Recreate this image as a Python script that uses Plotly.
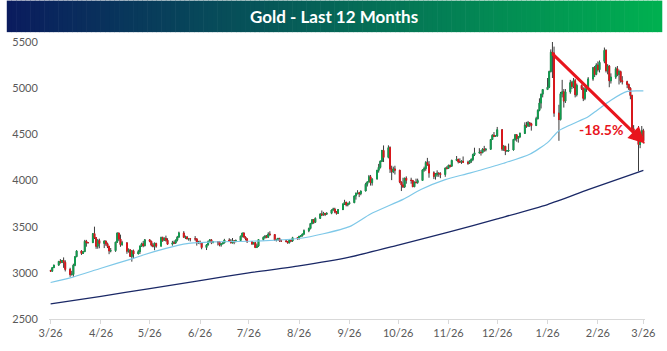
import plotly.graph_objects as go
import pandas as pd

# ---------------- data ----------------
open_ = [
    3025, 3018, 3056, 3084,
    3124, 3113, 3134, 3114, 3037, 2982, 2983, 3083, 3175, 3237, 3210, 3229, 3342, 3327, 3327, 3424, 3381, 3288, 3349, 3319, 3344, 3316,
    3288, 3238, 3240, 3333, 3431, 3366, 3306, 3325, 3235, 3249, 3178, 3239, 3204, 3230, 3289, 3314, 3294, 3357, 3342, 3300, 3289, 3318,
    3289, 3381, 3353, 3373, 3353, 3310, 3325, 3322, 3354, 3386, 3432, 3385, 3388, 3369, 3370, 3368, 3368, 3323, 3333, 3328, 3274,
    3303, 3338, 3357, 3326, 3337, 3335, 3302, 3313, 3324, 3355, 3343, 3324, 3347, 3339, 3350, 3397, 3431, 3388, 3368, 3337, 3314, 3326, 3275,
    3290, 3360, 3385, 3395, 3385, 3420, 3415, 3355, 3360, 3370, 3345, 3345, 3340, 3325, 3355, 3345, 3380, 3370, 3395, 3400, 3420,
    3455, 3480, 3535, 3575, 3548, 3590, 3637, 3627, 3642, 3635, 3645, 3680, 3690, 3660, 3645, 3685, 3746, 3764, 3736, 3749, 3760, 3833,
    3858, 3866, 3857, 3886, 3960, 3985, 4040, 3975, 4017, 4110, 4142, 4208, 4326, 4250, 4356, 4125, 4095, 4125, 4112, 3982, 3952, 3930, 4025,
    4002, 4001, 3932, 3980, 3977, 4000, 4115, 4128, 4195, 4170, 4083, 4045, 4066, 4078, 4074, 4065, 4135, 4131, 4165, 4155,
    4218, 4230, 4204, 4200, 4208, 4198, 4188, 4208, 4228, 4280, 4300, 4305, 4302, 4340, 4332, 4338, 4444, 4490, 4480, 4482, 4550, 4340, 4370,
    4320, 4322, 4330, 4445, 4495, 4455, 4475, 4510, 4600, 4590, 4625, 4615, 4595, 4670, 4760, 4840, 4935, 4985, 5010, 5180, 5390, 5380,
    4730, 4660, 4940, 4960, 4860, 4960, 5060, 5020, 5080, 4930, 5030, 4995, 4890, 4990, 5010, 5100, 5220, 5150, 5250, 5200,
    5290, 5410, 5190, 5240, 5080, 5120, 5210, 5150, 5180, 5080, 5070, 5040, 5000, 4920, 4560, 4470, 4390, 4480, 4540,
]
high = [
    3033, 3060, 3087, 3128,
    3149, 3137, 3167, 3136, 3055, 3022, 3099, 3175, 3245, 3245, 3232, 3357, 3357, 3331, 3430, 3500, 3386, 3367, 3370, 3352, 3350, 3328,
    3290, 3269, 3334, 3437, 3435, 3414, 3347, 3327, 3265, 3252, 3240, 3252, 3250, 3295, 3326, 3345, 3366, 3365, 3347, 3325, 3330, 3326,
    3392, 3392, 3384, 3403, 3375, 3346, 3349, 3360, 3400, 3446, 3452, 3403, 3399, 3378, 3374, 3398, 3371, 3347, 3350, 3329, 3310,
    3350, 3365, 3366, 3345, 3342, 3345, 3317, 3330, 3368, 3375, 3366, 3377, 3352, 3361, 3402, 3433, 3438, 3394, 3373, 3345, 3334, 3334, 3315,
    3363, 3395, 3410, 3410, 3440, 3450, 3420, 3370, 3380, 3380, 3360, 3360, 3345, 3360, 3360, 3390, 3385, 3400, 3405, 3425, 3470,
    3490, 3540, 3580, 3580, 3600, 3645, 3675, 3660, 3650, 3655, 3685, 3705, 3705, 3670, 3690, 3750, 3791, 3770, 3760, 3775, 3835, 3872,
    3895, 3875, 3890, 3975, 3990, 4060, 4060, 4020, 4115, 4180, 4218, 4330, 4380, 4381, 4370, 4160, 4150, 4160, 4112, 3990, 4030, 4030, 4045,
    4030, 4005, 3990, 4020, 4020, 4120, 4150, 4210, 4245, 4210, 4100, 4080, 4110, 4090, 4090, 4140, 4155, 4170, 4170, 4225,
    4265, 4235, 4240, 4220, 4260, 4215, 4220, 4240, 4290, 4355, 4350, 4330, 4350, 4375, 4350, 4450, 4500, 4525, 4485, 4580, 4555, 4385, 4375,
    4325, 4400, 4450, 4500, 4500, 4480, 4520, 4630, 4635, 4645, 4630, 4625, 4690, 4770, 4890, 4940, 4990, 5110, 5190, 5420, 5600, 5450,
    4820, 4960, 5090, 4990, 4990, 5090, 5080, 5110, 5100, 5050, 5040, 5010, 5010, 5030, 5120, 5230, 5240, 5270, 5290, 5300,
    5440, 5420, 5260, 5250, 5160, 5230, 5240, 5200, 5190, 5130, 5080, 5050, 5010, 4930, 4600, 4590, 4520, 4590, 4560,
]
low = [
    3012, 3015, 3054, 3076,
    3100, 3105, 3054, 3015, 2957, 2970, 2957, 3072, 3170, 3194, 3205, 3228, 3283, 3318, 3326, 3366, 3260, 3261, 3266, 3268, 3293, 3268,
    3202, 3222, 3227, 3323, 3345, 3282, 3293, 3206, 3219, 3171, 3121, 3154, 3204, 3205, 3283, 3277, 3287, 3331, 3285, 3276, 3245, 3272,
    3289, 3335, 3345, 3338, 3307, 3294, 3311, 3314, 3340, 3385, 3384, 3366, 3362, 3348, 3340, 3347, 3295, 3312, 3309, 3255, 3247,
    3297, 3328, 3311, 3322, 3296, 3287, 3283, 3310, 3321, 3341, 3320, 3319, 3310, 3330, 3340, 3383, 3381, 3351, 3325, 3301, 3308, 3268, 3268,
    3281, 3350, 3370, 3375, 3380, 3400, 3345, 3340, 3350, 3335, 3335, 3330, 3315, 3320, 3335, 3335, 3360, 3360, 3385, 3395, 3410,
    3440, 3470, 3525, 3530, 3540, 3585, 3615, 3620, 3615, 3630, 3635, 3675, 3645, 3630, 3640, 3680, 3735, 3720, 3720, 3740, 3755, 3793,
    3850, 3820, 3840, 3884, 3935, 3980, 3945, 3945, 4010, 4085, 4130, 4200, 4200, 4240, 4082, 4004, 4080, 4065, 3970, 3886, 3920, 3920, 3965,
    3965, 3930, 3930, 3970, 3965, 3995, 4095, 4105, 4160, 4030, 4015, 4010, 4040, 4040, 4025, 4040, 4120, 4125, 4140, 4150,
    4210, 4185, 4190, 4180, 4195, 4170, 4180, 4190, 4210, 4265, 4290, 4270, 4295, 4310, 4315, 4335, 4440, 4470, 4475, 4475, 4320, 4320, 4275,
    4315, 4310, 4325, 4430, 4420, 4410, 4460, 4505, 4570, 4580, 4580, 4540, 4590, 4660, 4750, 4780, 4900, 4980, 5000, 5170, 5110, 4690,
    4430, 4650, 4900, 4790, 4840, 4940, 4990, 5000, 4900, 4910, 4980, 4860, 4870, 4960, 5000, 5080, 5120, 5140, 5180, 5170,
    5270, 5170, 5150, 5010, 5050, 5100, 5130, 5040, 5060, 5040, 5000, 4980, 4880, 4540, 4440, 4100, 4350, 4420, 4400,
]
close = [
    3018, 3056, 3084, 3124,
    3113, 3134, 3114, 3037, 2982, 2983, 3083, 3175, 3237, 3210, 3229, 3342, 3327, 3327, 3424, 3381, 3288, 3349, 3319, 3344, 3316, 3288,
    3238, 3240, 3333, 3431, 3366, 3306, 3325, 3235, 3249, 3178, 3239, 3204, 3230, 3289, 3314, 3294, 3357, 3342, 3300, 3289, 3318, 3289,
    3381, 3353, 3373, 3353, 3310, 3325, 3322, 3354, 3386, 3432, 3385, 3388, 3369, 3370, 3368, 3368, 3323, 3333, 3328, 3274, 3303,
    3338, 3357, 3326, 3337, 3335, 3302, 3313, 3324, 3355, 3343, 3324, 3347, 3339, 3350, 3397, 3431, 3388, 3368, 3337, 3314, 3326, 3275, 3290,
    3360, 3385, 3395, 3385, 3420, 3415, 3355, 3360, 3370, 3345, 3345, 3340, 3325, 3355, 3345, 3380, 3370, 3395, 3400, 3420, 3455,
    3480, 3535, 3575, 3548, 3590, 3637, 3627, 3642, 3635, 3645, 3680, 3690, 3660, 3645, 3685, 3746, 3764, 3736, 3749, 3760, 3833, 3858,
    3866, 3857, 3886, 3960, 3985, 4040, 3975, 4017, 4110, 4142, 4208, 4326, 4250, 4356, 4125, 4095, 4125, 4112, 3982, 3952, 3930, 4025, 4002,
    4001, 3932, 3980, 3977, 4000, 4115, 4128, 4195, 4170, 4083, 4045, 4066, 4078, 4074, 4065, 4135, 4131, 4165, 4155, 4218,
    4230, 4204, 4200, 4208, 4198, 4188, 4208, 4228, 4280, 4300, 4305, 4302, 4340, 4332, 4338, 4444, 4490, 4480, 4482, 4550, 4340, 4370, 4320,
    4322, 4330, 4445, 4495, 4455, 4475, 4510, 4600, 4590, 4625, 4615, 4595, 4670, 4760, 4840, 4935, 4985, 5010, 5180, 5390, 5380, 4730,
    4660, 4940, 4960, 4860, 4960, 5060, 5020, 5080, 4930, 5030, 4995, 4890, 4990, 5010, 5100, 5220, 5150, 5250, 5200, 5280,
    5410, 5190, 5240, 5080, 5120, 5210, 5150, 5180, 5080, 5070, 5040, 5000, 4920, 4560, 4470, 4390, 4480, 4540, 4430,
]
assert len(open_) == len(high) == len(low) == len(close)
dates = pd.bdate_range("2025-03-26", periods=len(close))

# 50-day moving average (light blue)
ma50_dates = ["2025-03-26", "2025-04-07", "2025-04-26", "2025-05-16", "2025-05-22", "2025-06-05",
              "2025-06-18", "2025-07-05", "2025-07-26", "2025-08-11", "2025-08-26", "2025-09-10",
              "2025-09-26", "2025-10-09", "2025-10-29", "2025-11-09", "2025-11-24", "2025-12-09",
              "2025-12-30", "2026-01-15", "2026-01-26", "2026-02-02", "2026-02-20", "2026-02-24",
              "2026-03-06", "2026-03-16", "2026-03-26"]
ma50_values = [2895, 2945, 3050, 3157, 3193, 3265,
               3317, 3335, 3342, 3353, 3372, 3423,
               3500, 3637, 3796, 3903, 4010, 4080,
               4187, 4285, 4410, 4540, 4690, 4741,
               4870, 4965, 4970]

# 200-day moving average (navy)
ma200_dates = ["2025-03-26", "2025-04-26", "2025-05-26", "2025-06-26", "2025-07-26", "2025-08-26",
               "2025-09-26", "2025-10-26", "2025-11-26", "2025-12-26", "2026-01-26", "2026-02-20",
               "2026-03-26"]
ma200_values = [2665, 2745, 2830, 2915, 3000, 3075,
                3170, 3300, 3440, 3585, 3740, 3900,
                4110]

tick_dates = ["2025-03-26", "2025-04-26", "2025-05-26", "2025-06-26", "2025-07-26", "2025-08-26",
              "2025-09-26", "2025-10-26", "2025-11-26", "2025-12-26", "2026-01-26", "2026-02-26",
              "2026-03-26"]
tick_labels = ["3/26", "4/26", "5/26", "6/26", "7/26", "8/26", "9/26", "10/26", "11/26",
               "12/26", "1/26", "2/26", "3/26"]
y_ticks = [2500, 3000, 3500, 4000, 4500, 5000, 5500]

arrow_start = ("2026-01-28", 5390)
arrow_end = ("2026-03-27", 4400)
arrow_label = "-18.5%"
arrow_label_pos = ("2026-02-28", 4550)

title_text = "Gold - Last 12 Months"

# ---------------- figure ----------------
W, H = 667, 351
ML, MR, MT, MB = 43, 17, 42, 28
PW, PH = W - ML - MR, H - MT - MB

UP = "#10a050"
DOWN = "#e0161b"
WICK = "#3c3c3c"

body_hi = [max(o, c) for o, c in zip(open_, close)]
body_lo = [min(o, c) for o, c in zip(open_, close)]

fig = go.Figure()

# wicks (dark) – full high/low range
fig.add_trace(go.Candlestick(
    x=dates, open=open_, high=high, low=low, close=close,
    increasing=dict(line=dict(color=WICK, width=1), fillcolor=WICK),
    decreasing=dict(line=dict(color=WICK, width=1), fillcolor=WICK),
    whiskerwidth=0, hoverinfo="skip", showlegend=False,
))
# coloured bodies on top
fig.add_trace(go.Candlestick(
    x=dates, open=open_, high=body_hi, low=body_lo, close=close,
    increasing=dict(line=dict(color=UP, width=1), fillcolor=UP),
    decreasing=dict(line=dict(color=DOWN, width=1), fillcolor=DOWN),
    whiskerwidth=0, showlegend=False,
))

fig.add_trace(go.Scatter(
    x=ma50_dates, y=ma50_values, mode="lines",
    line=dict(color="#7ec8e8", width=1.2, shape="spline", smoothing=0.6),
    showlegend=False, hoverinfo="skip",
))
fig.add_trace(go.Scatter(
    x=ma200_dates, y=ma200_values, mode="lines",
    line=dict(color="#1a2866", width=1.3, shape="spline", smoothing=0.6),
    showlegend=False, hoverinfo="skip",
))

# gradient title bar
def px_to_py(py):
    return (H - MB - py) / PH

def px_to_px(px):
    return (px - ML) / PW

c0 = (10, 28, 94)
c1 = (0, 176, 80)
N = 140
shapes = []
bar_top, bar_bot = 0, 32
for i in range(N):
    t = i / (N - 1)
    col = tuple(round(c0[k] + (c1[k] - c0[k]) * t) for k in range(3))
    x0 = i * W / N
    x1 = (i + 1) * W / N + 0.6
    shapes.append(dict(
        type="rect", xref="paper", yref="paper",
        x0=px_to_px(x0), x1=px_to_px(x1),
        y0=px_to_py(bar_bot), y1=px_to_py(bar_top),
        fillcolor="rgb(%d,%d,%d)" % col, line=dict(width=0), layer="above",
    ))

annotations = [
    dict(text="<b>%s</b>" % title_text, xref="paper", yref="paper",
         x=px_to_px(333), y=px_to_py(16), xanchor="center", yanchor="middle",
         showarrow=False, font=dict(family="Lato, Open Sans, sans-serif", size=17, color="white")),
    dict(x=arrow_end[0], y=arrow_end[1], ax=arrow_start[0], ay=arrow_start[1],
         xref="x", yref="y", axref="x", ayref="y", text="", showarrow=True,
         arrowhead=2, arrowsize=1.1, arrowwidth=3, arrowcolor="#e8151c"),
    dict(x=arrow_label_pos[0], y=arrow_label_pos[1], xref="x", yref="y", text="<b>%s</b>" % arrow_label,
         showarrow=False, font=dict(family="Lato, Open Sans, sans-serif", size=14, color="#e8151c")),
]

fig.update_layout(
    width=W, height=H,
    margin=dict(l=ML, r=MR, t=MT, b=MB, pad=0),
    paper_bgcolor="white", plot_bgcolor="white",
    shapes=shapes, annotations=annotations,
    boxmode="overlay", showlegend=False,
    font=dict(family="Lato, Open Sans, sans-serif", size=11, color="#595959"),
)
fig.update_xaxes(
    type="date", range=["2025-03-25", "2026-03-27"],
    tickvals=tick_dates, ticktext=tick_labels,
    showgrid=False, zeroline=False,
    showline=True, linecolor="#d9d9d9", linewidth=1,
    ticks="outside", ticklen=4, tickcolor="#d9d9d9",
    tickfont=dict(size=11, color="#595959"),
    rangeslider=dict(visible=False),
)
fig.update_yaxes(
    range=[2500, 5500], tickvals=y_ticks,
    showgrid=False, zeroline=False, showline=False,
    ticks="outside", ticklen=8, tickcolor="rgba(0,0,0,0)",
    tickfont=dict(size=11, color="#595959"),
)

fig.write_html("out.html")
